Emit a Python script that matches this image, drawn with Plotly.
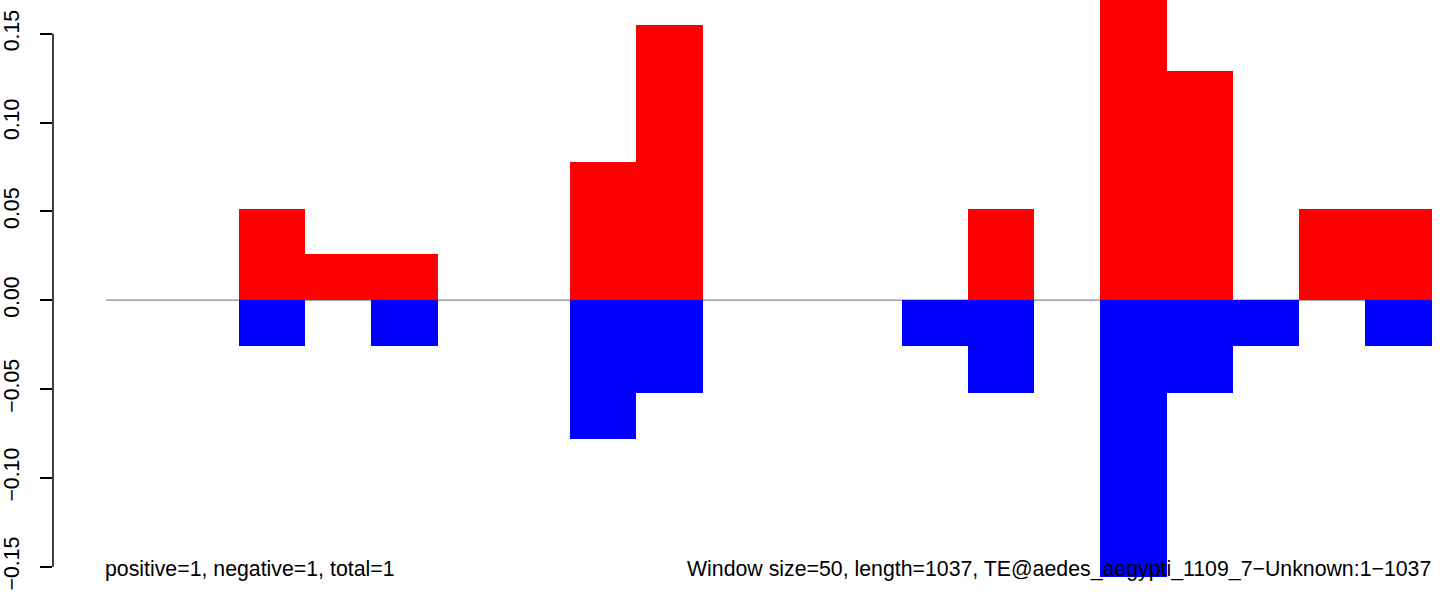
import plotly.graph_objects as go

# Data: 20 windows of 50 bp along a 1037 bp element
window_starts = [0, 50, 100, 150, 200, 250, 300, 350, 400, 450,
                 500, 550, 600, 650, 700, 750, 800, 850, 900, 950]
window_size = 50
positive = [0, 0, 0.0515, 0.026, 0.026, 0, 0, 0.078, 0.155, 0,
            0, 0, 0, 0.0515, 0, 0.182, 0.129, 0, 0.0515, 0.0515]
negative = [0, 0, -0.026, 0, -0.026, 0, 0, -0.078, -0.052, 0,
            0, 0, -0.026, -0.052, 0, -0.156, -0.052, -0.026, 0, -0.026]
y_ticks = [-0.15, -0.10, -0.05, 0.00, 0.05, 0.10, 0.15]
y_tick_text = ["\u22120.15", "\u22120.10", "\u22120.05", "0.00", "0.05", "0.10", "0.15"]
left_label = "positive=1, negative=1, total=1"
right_label = "Window size=50, length=1037, TE@aedes_aegypti_1109_7\u2212Unknown:1\u22121037"

centers = [s + window_size / 2 for s in window_starts]
FONT = "Liberation Sans, Arial, Helvetica, sans-serif"
FS = 21.3

fig = go.Figure()
fig.add_trace(go.Bar(x=centers, y=positive, width=window_size, marker=dict(color="#ff0000", line=dict(width=0)),
                     hoverinfo="skip"))
fig.add_trace(go.Bar(x=centers, y=negative, width=window_size, marker=dict(color="#0000ff", line=dict(width=0)),
                     hoverinfo="skip"))

# baseline
fig.add_shape(type="line", xref="x", yref="y", x0=0, x1=1000, y0=0, y1=0,
              line=dict(color="#8a8a8a", width=1.2), layer="below")
# y axis line spanning ticks only
fig.add_shape(type="line", xref="paper", yref="y", x0=0, x1=0, y0=-0.15, y1=0.15,
              line=dict(color="black", width=1.5), layer="above")

fig.add_annotation(x=0, y=-0.1513, xref="x", yref="y", text=left_label, showarrow=False,
                   xanchor="left", yanchor="middle", font=dict(family=FONT, size=FS, color="black"),
                   borderpad=0, xshift=-2)
fig.add_annotation(x=1000, y=-0.1513, xref="x", yref="y", text=right_label, showarrow=False,
                   xanchor="right", yanchor="middle", font=dict(family=FONT, size=FS, color="black"),
                   borderpad=0)

fig.update_layout(
    width=1444, height=598,
    margin=dict(l=50, r=0, t=0, b=0),
    paper_bgcolor="white", plot_bgcolor="white",
    barmode="overlay", bargap=0, showlegend=False,
    xaxis=dict(range=[-40.12, 1009.26], visible=False, fixedrange=True),
    yaxis=dict(range=[-0.16762, 0.16898], tickvals=y_ticks, ticktext=y_tick_text,
               tickangle=-90, ticks="outside", ticklen=12, tickwidth=1.5, tickcolor="black",
               showgrid=False, zeroline=False, showline=False, ticklabelstandoff=12,
               tickfont=dict(family=FONT, size=FS, color="black"), fixedrange=True),
    font=dict(family=FONT),
)

fig.write_html("out.html", config={"displayModeBar": False},
               post_script="document.body.style.margin='0';document.body.style.overflow='hidden';")
